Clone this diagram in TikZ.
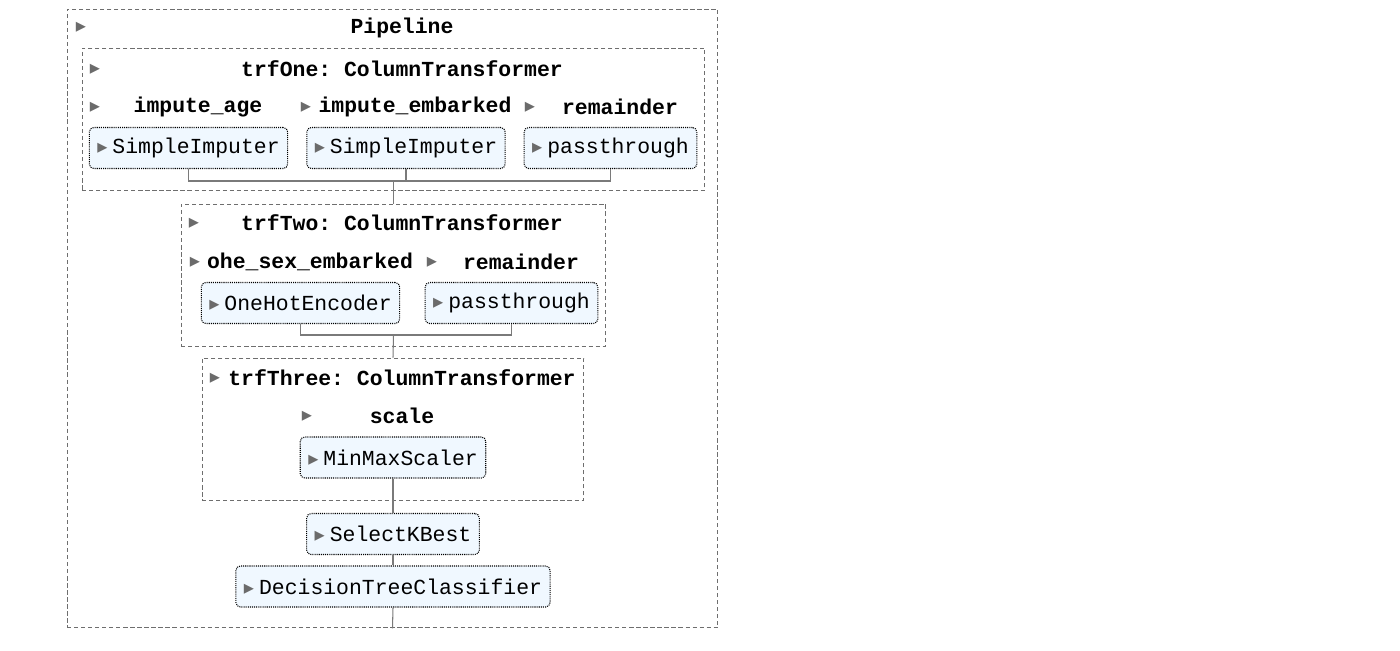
\documentclass[tikz,border=0pt]{standalone}
\usepackage{fontspec}
\setmonofont{Liberation Mono}
\newfontfamily\caretfont{DejaVu Sans}
\usetikzlibrary{positioning,calc}
\definecolor{estbg}{HTML}{F0F8FF}
\definecolor{boxgray}{HTML}{6E6E6E}
\definecolor{caretgray}{HTML}{6B6B6B}
\definecolor{wiregray}{HTML}{7A7A7A}
\newcommand{\caret}{{\caretfont\fontsize{11.5}{12}\selectfont\color{caretgray}▸}}

\begin{document}
\begin{tikzpicture}[
      x=0.02cm, y=-0.02cm,
      font=\ttfamily\fontsize{12.2}{14}\selectfont,
      container/.style={
        rectangle,
        draw=boxgray,
        line width=0.55pt,
        dash pattern=on 2.4pt off 1.6pt,
        minimum height=2.84cm,
        inner sep=0pt
      },
      estimator/.style={
        rectangle,
        rounded corners=2.5pt,
        draw=black,
        fill=estbg,
        line width=0.6pt,
        dash pattern=on 0.6pt off 0.6pt,
        minimum height=0.82cm,
        inner xsep=0.16cm,
        inner ysep=0pt
      },
      steplabel/.style={
        font=\ttfamily\bfseries\fontsize{12.2}{14}\selectfont,
        inner sep=0pt
      },
      caretmark/.style={
        inner sep=0pt
      },
      wire/.style={
        draw=wiregray,
        line width=0.6pt
      }
    ]

    \useasboundingbox (0,0) rectangle (1400,650);

    % Containers
    \node[container, minimum width=13.02cm, minimum height=12.38cm] (pipeline) at (392.5,318.5) {};
    \node[container, minimum width=12.46cm] (trfOne) at (393.5,119) {};
    \node[container, minimum width=8.5cm] (trfTwo) at (393.5,275) {};
    \node[container, minimum width=7.64cm] (trfThree) at (393,429) {};

    % Pipeline
    \node[caretmark] (cPipe) at (81,27) {\caret};
    \node[steplabel] (lPipe) at (402,28) {Pipeline};

    % trfOne
    \node[caretmark] (cOne) at (95,69) {\caret};
    \node[steplabel] (lOne) at (402,69) {trfOne: ColumnTransformer};

    \node[caretmark] (cAge) at (95,107) {\caret};
    \node[steplabel] (lAge) at (198,107) {impute\_age};
    \node[caretmark] (cEmb) at (306,107) {\caret};
    \node[steplabel] (lEmb) at (415,107) {impute\_embarked};
    \node[caretmark] (cRemOne) at (530,107) {\caret};
    \node[steplabel] (lRemOne) at (620,107) {remainder};

    \node[estimator] (impAge) at (188.5,148) {\caret\hspace{0.1cm}SimpleImputer};
    \node[estimator] (impEmb) at (406,148) {\caret\hspace{0.1cm}SimpleImputer};
    \node[estimator] (passOne) at (610.5,148) {\caret\hspace{0.1cm}passthrough};

    \coordinate (joinOne) at (393.5,181);
    \draw[wire] (impAge.south) |- (joinOne) -| (passOne.south);
    \draw[wire] (impEmb.south) -- (impEmb.south |- joinOne);
    \draw[wire] (joinOne) -- (trfTwo.north);

    % trfTwo
    \node[caretmark] (cTwo) at (194,223) {\caret};
    \node[steplabel] (lTwo) at (402,223) {trfTwo: ColumnTransformer};

    \node[caretmark] (cOhe) at (195,262) {\caret};
    \node[steplabel] (lOhe) at (310,262) {ohe\_sex\_embarked};
    \node[caretmark] (cRemTwo) at (432,262) {\caret};
    \node[steplabel] (lRemTwo) at (521,262) {remainder};

    \node[estimator] (ohe) at (300.5,303) {\caret\hspace{0.1cm}OneHotEncoder};
    \node[estimator] (passTwo) at (511.5,303) {\caret\hspace{0.1cm}passthrough};

    \coordinate (joinTwo) at (393.5,335);
    \draw[wire] (ohe.south) |- (joinTwo) -| (passTwo.south);
    \draw[wire] (joinTwo) -- (trfThree.north);

    % trfThree
    \node[caretmark] (cThree) at (215,378) {\caret};
    \node[steplabel] (lThree) at (402,378) {trfThree: ColumnTransformer};

    \node[caretmark] (cScale) at (307,416) {\caret};
    \node[steplabel] (lScale) at (402,416) {scale};

    \node[estimator] (minmax) at (393,457.5) {\caret\hspace{0.1cm}MinMaxScaler};

    % Final steps
    \node[estimator] (kbest) at (393,534) {\caret\hspace{0.1cm}SelectKBest};
    \node[estimator] (tree) at (393,586.5) {\caret\hspace{0.1cm}DecisionTreeClassifier};

    \draw[wire] (minmax.south) -- (kbest.north);
    \draw[wire] (kbest.south) -- (tree.north);
    \draw[wire] (tree.south) -- (pipeline.south);

    \end{tikzpicture}
\end{document}
